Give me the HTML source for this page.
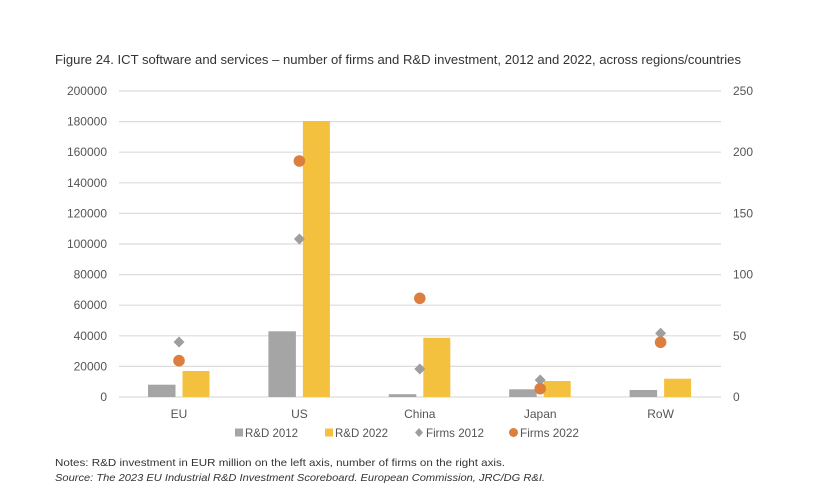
<!DOCTYPE html>
<html><head><meta charset="utf-8"><style>
html,body{margin:0;padding:0;background:#fff;}
svg{display:block;}
text{font-family:"Liberation Sans","DejaVu Sans",sans-serif;}
</style></head><body>
<svg width="815" height="485" viewBox="0 0 815 485" xmlns="http://www.w3.org/2000/svg">
<rect width="815" height="485" fill="#fff"/>
<text x="55" y="64" font-size="12.5" fill="#333" textLength="686" lengthAdjust="spacingAndGlyphs">Figure 24. ICT software and services – number of firms and R&amp;D investment, 2012 and 2022, across regions/countries</text>
<g stroke="#dcdcdc" stroke-width="1.2">
<line x1="119" x2="721" y1="91" y2="91"/>
<line x1="119" x2="721" y1="121.6" y2="121.6"/>
<line x1="119" x2="721" y1="152.2" y2="152.2"/>
<line x1="119" x2="721" y1="182.8" y2="182.8"/>
<line x1="119" x2="721" y1="213.4" y2="213.4"/>
<line x1="119" x2="721" y1="244" y2="244"/>
<line x1="119" x2="721" y1="274.6" y2="274.6"/>
<line x1="119" x2="721" y1="305.2" y2="305.2"/>
<line x1="119" x2="721" y1="335.8" y2="335.8"/>
<line x1="119" x2="721" y1="366.4" y2="366.4"/>
<line x1="119" x2="721" y1="397" y2="397"/>
</g>
<g font-size="12" fill="#555" text-anchor="end">
<text x="107" y="95">200000</text>
<text x="107" y="125.6">180000</text>
<text x="107" y="156.2">160000</text>
<text x="107" y="186.8">140000</text>
<text x="107" y="217.4">120000</text>
<text x="107" y="248">100000</text>
<text x="107" y="278.6">80000</text>
<text x="107" y="309.2">60000</text>
<text x="107" y="339.8">40000</text>
<text x="107" y="370.4">20000</text>
<text x="107" y="401">0</text>
</g>
<g font-size="12" fill="#555">
<text x="733" y="95">250</text>
<text x="733" y="156.2">200</text>
<text x="733" y="217.4">150</text>
<text x="733" y="278.6">100</text>
<text x="733" y="339.8">50</text>
<text x="733" y="401">0</text>
</g>
<g fill="#a5a5a5">
<rect x="148" y="384.7" width="27.5" height="12.3"/>
<rect x="268.4" y="331.3" width="27.5" height="65.7"/>
<rect x="388.8" y="394.2" width="27.5" height="2.8"/>
<rect x="509.2" y="389.3" width="27.5" height="7.7"/>
<rect x="629.6" y="390" width="27.5" height="7"/>
</g>
<g fill="#f4c13f">
<rect x="182.5" y="371" width="27" height="26"/>
<rect x="302.9" y="121" width="27" height="276"/>
<rect x="423.3" y="337.8" width="27" height="59.2"/>
<rect x="543.7" y="381" width="27" height="16"/>
<rect x="664.1" y="378.7" width="27" height="18.3"/>
</g>
<g fill="#9e9e9e">
<path d="M179 336.5 L184.5 342 L179 347.5 L173.5 342 Z"/>
<path d="M299.4 233.5 L304.9 239 L299.4 244.5 L293.9 239 Z"/>
<path d="M419.8 363.5 L425.3 369 L419.8 374.5 L414.3 369 Z"/>
<path d="M540.2 374.5 L545.7 380 L540.2 385.5 L534.7 380 Z"/>
<path d="M660.6 327.8 L666.1 333.3 L660.6 338.8 L655.1 333.3 Z"/>
</g>
<g fill="#dc7f3e">
<circle cx="179" cy="360.7" r="5.8"/>
<circle cx="299.4" cy="161" r="5.8"/>
<circle cx="419.8" cy="298.3" r="5.8"/>
<circle cx="540.2" cy="388.7" r="5.8"/>
<circle cx="660.6" cy="342.3" r="5.8"/>
</g>
<g font-size="12" fill="#555" text-anchor="middle">
<text x="179" y="418">EU</text>
<text x="299.4" y="418">US</text>
<text x="419.8" y="418">China</text>
<text x="540.2" y="418">Japan</text>
<text x="660.6" y="418">RoW</text>
</g>
<g font-size="12" fill="#555">
<rect x="235" y="428.5" width="8" height="8" fill="#a5a5a5"/>
<text x="245" y="437" textLength="53" lengthAdjust="spacingAndGlyphs">R&amp;D 2012</text>
<rect x="325" y="428.5" width="8" height="8" fill="#f4c13f"/>
<text x="335" y="437" textLength="53" lengthAdjust="spacingAndGlyphs">R&amp;D 2022</text>
<path d="M419 428 L423 432.5 L419 437 L415 432.5 Z" fill="#9e9e9e"/>
<text x="426" y="437" textLength="58" lengthAdjust="spacingAndGlyphs">Firms 2012</text>
<circle cx="513.5" cy="432.5" r="4.5" fill="#dc7f3e"/>
<text x="520" y="437" textLength="59" lengthAdjust="spacingAndGlyphs">Firms 2022</text>
</g>
<text x="55" y="466" font-size="10.5" fill="#333" textLength="450" lengthAdjust="spacingAndGlyphs">Notes: R&amp;D investment in EUR million on the left axis, number of firms on the right axis.</text>
<text x="55" y="481" font-size="10.5" fill="#333" font-style="italic" textLength="490" lengthAdjust="spacingAndGlyphs">Source: The 2023 EU Industrial R&amp;D Investment Scoreboard. European Commission, JRC/DG R&amp;I.</text>
</svg>
</body></html>
